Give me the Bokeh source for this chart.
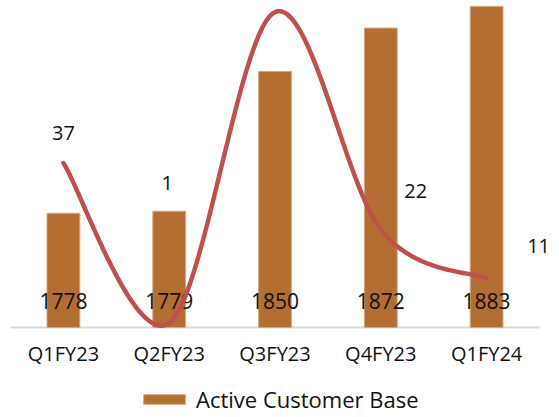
import numpy as np
from bokeh.plotting import figure
from bokeh.models import (Range1d, Legend, LegendItem, ColumnDataSource, LabelSet)
from bokeh.core.properties import value
from bokeh.embed import file_html
from bokeh.resources import INLINE

categories = ["Q1FY23", "Q2FY23", "Q3FY23", "Q4FY23", "Q1FY24"]
customer_base = [1778, 1779, 1850, 1872, 1883]
line_values = [37, 1, 71, 22, 11]
line_labels = ["37", "1", "", "22", "11"]

FONT = "Open Sans"
BAR_COLOR = "#B46E32"
LINE_COLOR = "#C0504D"
TEXT_COLOR = "#111111"

# label placement (style)
lab_dx = [0, -2, 0, 35, 52]
lab_dy = [30, 140, 0, 39, 33]

xs = np.arange(len(categories), dtype=float)
BASE = 1720

p = figure(width=559, height=417, output_backend="svg", toolbar_location=None,
           x_range=Range1d(-0.5945, 4.689), y_range=Range1d(1674.3, 1886),
           x_axis_location=None, y_axis_location=None,
           min_border_left=0, min_border_right=0, min_border_top=0,
           min_border_bottom=0)
p.extra_y_ranges = {"sec": Range1d(-20.27, 73.6)}
p.xgrid.visible = False
p.ygrid.visible = False
p.outline_line_color = None

# category axis line and labels
p.segment(x0=[-0.5], x1=[len(categories) - 0.5], y0=[BASE], y1=[BASE],
          line_color="#D9D9D9", line_width=2)
p.text(x=xs, y=[BASE] * len(categories), text=categories, text_align="center",
       text_baseline="middle", y_offset=26, text_font=value(FONT),
       text_font_size="20px", text_color=TEXT_COLOR)

src = ColumnDataSource(dict(x=xs, top=customer_base,
                            lab=[str(v) for v in customer_base]))
bars = p.vbar(x="x", top="top", bottom=BASE, width=0.31, source=src,
              fill_color=BAR_COLOR, line_color="#D8A57A", line_width=1)

p.text(x="x", y=BASE, text="lab", source=src, text_align="center",
       text_baseline="middle", y_offset=-26, text_font=value(FONT),
       text_font_size="21px", text_color=TEXT_COLOR)

# smoothed line (Catmull-Rom style bezier, as in spreadsheet smoothing)
P = np.column_stack([xs, np.array(line_values, dtype=float)])
lx, ly = [], []
n = len(P)
for i in range(n - 1):
    p0 = P[i - 1] if i > 0 else P[i]
    p1 = P[i]
    p2 = P[i + 1]
    p3 = P[i + 2] if i + 2 < n else P[i + 1]
    c1 = p1 + (p2 - p0) / 6.0
    c2 = p2 - (p3 - p1) / 6.0
    t = np.linspace(0, 1, 40)[:, None]
    seg = ((1 - t) ** 3) * p1 + 3 * ((1 - t) ** 2) * t * c1 + 3 * (1 - t) * t ** 2 * c2 + t ** 3 * p2
    lx.extend(seg[:, 0]); ly.extend(seg[:, 1])
p.line(lx, ly, y_range_name="sec", line_color=LINE_COLOR, line_width=4.5,
       line_cap="round")

lsrc = ColumnDataSource(dict(x=xs, y=line_values, lab=line_labels,
                             dx=lab_dx, dy=lab_dy))
p.add_layout(LabelSet(x="x", y="y", text="lab", source=lsrc, y_range_name="sec",
                      x_offset="dx", y_offset="dy", text_align="center",
                      text_baseline="middle", text_font=value(FONT),
                      text_font_size="20px", text_color=TEXT_COLOR))

legend = Legend(items=[LegendItem(label="Active Customer Base", renderers=[bars])],
                location=(138, 3), orientation="horizontal", margin=0, padding=0,
                glyph_width=52, glyph_height=12, label_standoff=6, label_height=20,
                label_text_font=FONT, label_text_font_size="22px",
                label_text_color=TEXT_COLOR, border_line_color=None,
                background_fill_alpha=0)
p.add_layout(legend)

open("out.html", "w").write(file_html(p, INLINE))
